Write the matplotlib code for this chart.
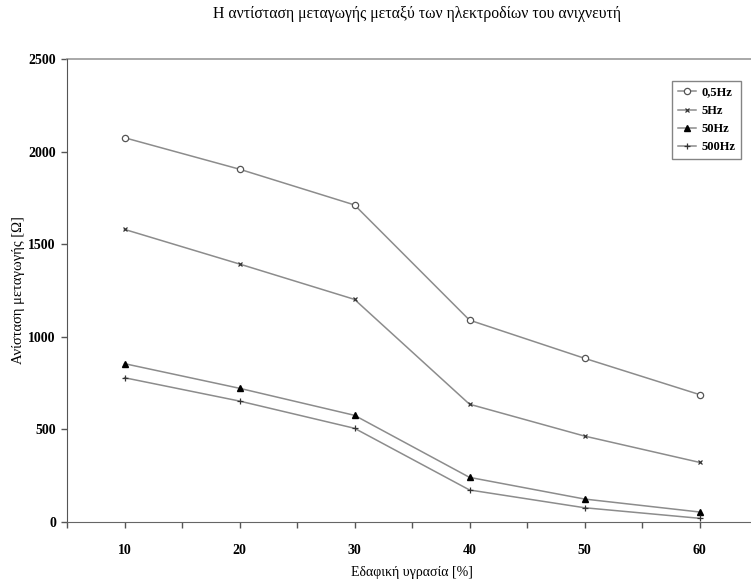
import matplotlib.pyplot as plt

plt.rcParams['font.family'] = ['Liberation Serif', 'DejaVu Serif']

moisture = [10, 20, 30, 40, 50, 60]
r_05hz = [2075, 1905, 1712, 1090, 884, 688]
r_5hz = [1580, 1393, 1202, 636, 464, 322]
r_50hz = [855, 722, 576, 241, 124, 54]
r_500hz = [779, 653, 506, 173, 77, 20]

fig = plt.figure(figsize=(7.51, 5.79), dpi=100)
ax = fig.add_axes([67 / 751, 57 / 579, 690 / 751, 463 / 579])

line_col = '#8c8c8c'
ax.plot(moisture, r_05hz, color=line_col, lw=1.1, marker='o', ms=4.5,
        mfc='white', mec='#555555', mew=0.9, label='0,5Hz')
ax.plot(moisture, r_5hz, color=line_col, lw=1.1, marker='x', ms=3.5,
        mec='#333333', mew=0.9, label='5Hz')
ax.plot(moisture, r_50hz, color=line_col, lw=1.1, marker='^', ms=4.5,
        mfc='black', mec='black', label='50Hz')
ax.plot(moisture, r_500hz, color=line_col, lw=1.1, marker='+', ms=5,
        mec='#333333', mew=0.9, label='500Hz')

ax.set_xlim(5, 65)
ax.set_ylim(0, 2500)
ax.set_xticks(range(5, 66, 5))
ax.set_xticklabels(['' if v % 10 else str(v) for v in range(5, 66, 5)])
ax.set_yticks(range(0, 2501, 500))

for side in ['top', 'right']:
    ax.spines[side].set_visible(False)
ax.spines['left'].set_color('#555555')
ax.spines['bottom'].set_color('#666666')
ax.axhline(2500, color='#999999', lw=1.2, clip_on=False)

ax.tick_params(axis='both', direction='out', length=4, width=1, color='#555555',
               labelsize=10, pad=4)
for lbl in ax.get_xticklabels() + ax.get_yticklabels():
    lbl.set_fontweight('bold')
ax.tick_params(axis='x', pad=12)

ax.set_xlabel('Εδαφική υγρασία [%]', fontsize=10, labelpad=6)
ax.set_ylabel('Ανίσταση μεταγωγής [Ω]', fontsize=10.5)
ax.yaxis.set_label_coords(-42 / 690, 0.5)
fig.text(417 / 751, 1 - 14 / 579, 'Η αντίσταση μεταγωγής μεταξύ των ηλεκτροδίων του ανιχνευτή',
         ha='center', va='center', fontsize=11.3)

leg = ax.legend(loc='upper right', bbox_to_anchor=(741 / 751, 1 - 81 / 579),
                bbox_transform=fig.transFigure, frameon=True, fancybox=False,
                prop={'size': 9, 'weight': 'bold'}, handlelength=1.5,
                handletextpad=0.4, labelspacing=0.5, borderpad=0.45, borderaxespad=0)
leg.get_frame().set_edgecolor('#666666')
leg.get_frame().set_linewidth(1.0)

fig.savefig('out.png', dpi=100)
